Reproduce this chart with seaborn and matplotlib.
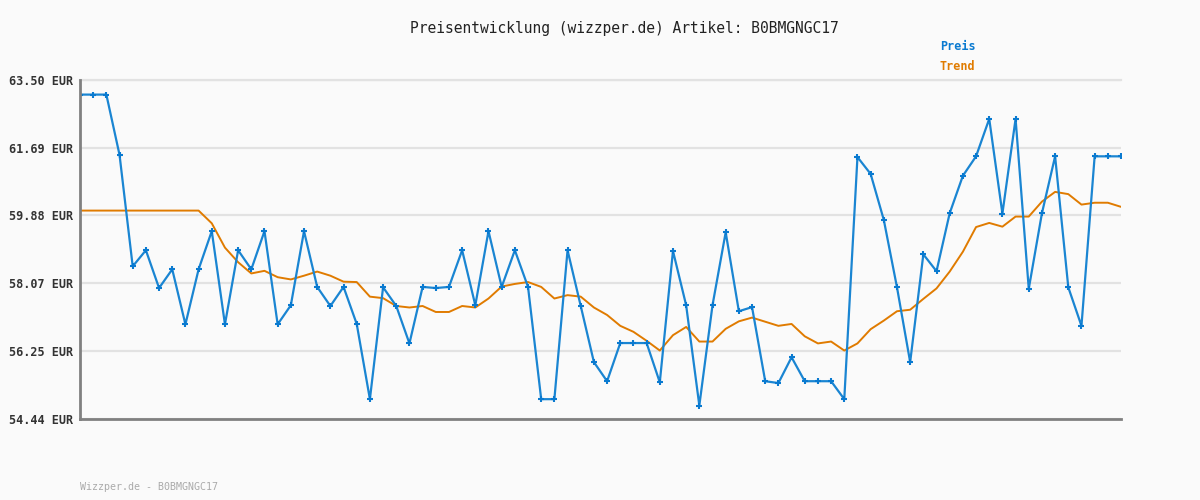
import numpy as np
import pandas as pd
import matplotlib
matplotlib.use("Agg")
import matplotlib.pyplot as plt
import seaborn as sns

# Preis values (80 points)
preis = [63.11, 63.11, 63.11, 61.50, 58.52, 58.95, 57.94, 58.44, 56.97, 58.44,
         59.46, 56.97, 58.95, 58.44, 59.46, 56.97, 57.48, 59.46, 57.97, 57.46,
         57.97, 56.98, 54.97, 57.96, 57.46, 56.46, 57.97, 57.94, 57.97, 58.95,
         57.48, 59.46, 57.97, 58.95, 57.97, 54.97, 54.97, 58.95, 57.46, 55.96,
         55.45, 56.47, 56.47, 56.47, 55.42, 58.93, 57.48, 54.80, 57.48, 59.43,
         57.32, 57.43, 55.45, 55.40, 56.09, 55.45, 55.45, 55.45, 54.97, 61.44,
         60.99, 59.76, 57.96, 55.96, 58.84, 58.39, 59.94, 60.94, 61.46, 62.46,
         59.93, 62.46, 57.92, 59.94, 61.46, 57.96, 56.93, 61.46, 61.46, 61.46]

# Trend (moving average)
trend = [60.01, 60.01, 60.01, 60.01, 60.01, 60.01, 60.01, 60.01, 60.01, 60.01,
         59.67, 59.02, 58.63, 58.33, 58.40, 58.23, 58.17, 58.27, 58.38, 58.27,
         58.11, 58.10, 57.71, 57.67, 57.46, 57.42, 57.46, 57.30, 57.30, 57.46,
         57.42, 57.66, 57.98, 58.05, 58.10, 57.97, 57.66, 57.75, 57.71, 57.42,
         57.22, 56.93, 56.77, 56.53, 56.27, 56.68, 56.90, 56.51, 56.51, 56.85,
         57.05, 57.15, 57.04, 56.93, 56.98, 56.65, 56.46, 56.51, 56.27, 56.46,
         56.84, 57.07, 57.32, 57.36, 57.65, 57.93, 58.38, 58.91, 59.57, 59.68,
         59.58, 59.85, 59.85, 60.25, 60.51, 60.45, 60.17, 60.22, 60.22, 60.11]

y_ticks = [54.44, 56.25, 58.07, 59.88, 61.69, 63.50]
y_labels = ["54.44 EUR", "56.25 EUR", "58.07 EUR", "59.88 EUR", "61.69 EUR", "63.50 EUR"]

blue = "#0a7ad0"
orange = "#e07b00"
bg = "#fafafa"

sns.set_style("white")
plt.rcParams["font.family"] = ["DejaVu Sans Mono", "DejaVu Sans"]

idx = np.arange(len(preis))
df = pd.DataFrame({"idx": idx, "Preis": preis, "Trend": trend})

fig = plt.figure(figsize=(12, 5), dpi=100, facecolor=bg)
ax = fig.add_axes([80 / 1200, 1 - 419 / 500, 1041 / 1200, 339 / 500])
ax.set_facecolor(bg)

sns.lineplot(data=df, x="idx", y="Trend", ax=ax, color=orange, linewidth=1.4, zorder=3)
sns.lineplot(data=df, x="idx", y="Preis", ax=ax, color="#1a85d2", linewidth=1.6,
             marker="+", markersize=5, markeredgewidth=1.5, markeredgecolor=blue, zorder=4)

ax.set_xlim(0, len(preis) - 1)
ax.set_ylim(54.44, 63.50)
ax.set_yticks(y_ticks)
ax.set_yticklabels(y_labels, fontsize=8.5, fontweight="bold", color="#333333")
ax.set_xticks([])
ax.set_xlabel("")
ax.set_ylabel("")
ax.tick_params(axis="y", length=0, pad=5)

ax.grid(axis="y", color="#e2e2e2", linewidth=1.6)
ax.set_axisbelow(True)
ax.spines["right"].set_visible(False)
for side in ["left", "bottom"]:
    ax.spines[side].set_color("#808080")
    ax.spines[side].set_linewidth(2)
    ax.spines[side].set_zorder(5)
ax.spines["top"].set_color("#e2e2e2")
ax.spines["top"].set_linewidth(1.6)

fig.text(624.5 / 1200, 1 - 28 / 500, "Preisentwicklung (wizzper.de) Artikel: B0BMGNGC17",
         ha="center", va="center", fontsize=10.5, color="#222222")
fig.text(940 / 1200, 1 - 46 / 500, "Preis", ha="left", va="center",
         fontsize=8.5, fontweight="bold", color=blue)
fig.text(940 / 1200, 1 - 67 / 500, "Trend", ha="left", va="center",
         fontsize=8.5, fontweight="bold", color=orange)
fig.text(80 / 1200, 1 - 487 / 500, "Wizzper.de - B0BMGNGC17", ha="left", va="center",
         fontsize=7.2, color="#aaaaaa")

fig.savefig("out.png", dpi=100, facecolor=bg)
